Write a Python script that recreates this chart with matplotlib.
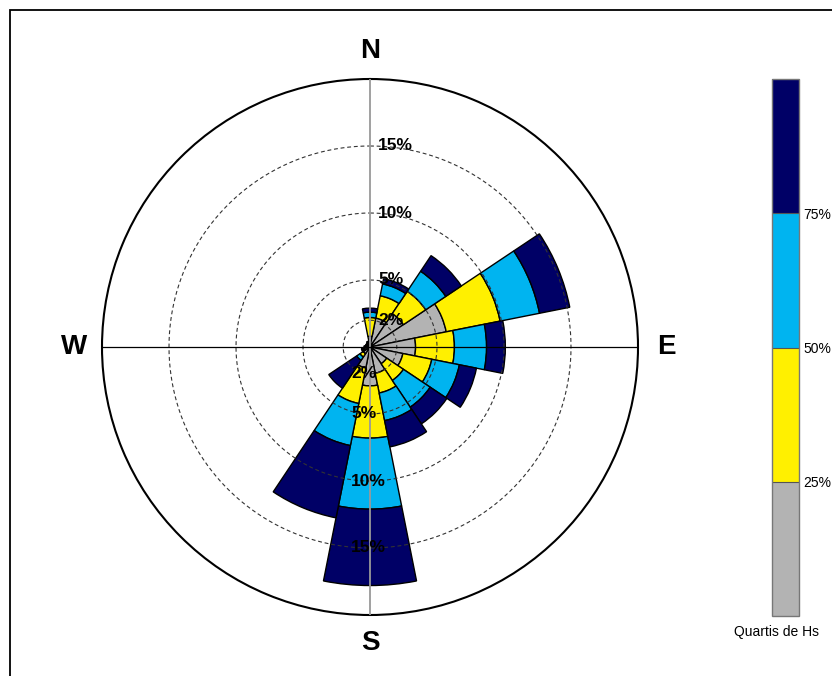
import numpy as np
import matplotlib
matplotlib.use("Agg")
import matplotlib.pyplot as plt
from matplotlib.colors import ListedColormap, BoundaryNorm
from matplotlib.patches import Rectangle
import matplotlib.colorbar as mcolorbar

plt.rcParams['font.family'] = ['Liberation Sans', 'DejaVu Sans']

# Directions (degrees from north, clockwise)
directions = [0, 22.5, 45, 67.5, 90, 112.5, 135, 157.5,
              180, 202.5, 225, 247.5, 270, 292.5, 315, 337.5]

# Cumulative frequency (%) reached by each Hs quartile class, per direction
q1_cum = [0.8, 2.2, 3.0, 5.8, 3.4, 2.5, 1.5, 2.0, 2.9, 1.6, 0.6, 0.45, 0.3, 0.2, 0.2, 0.3]
q2_cum = [2.2, 3.9, 5.0, 9.9, 6.3, 4.7, 3.0, 3.5, 6.8, 4.3, 0.9, 0.55, 0.35, 0.25, 0.25, 0.35]
q3_cum = [2.6, 4.8, 6.8, 12.9, 8.7, 6.8, 5.4, 5.6, 12.1, 7.5, 1.2, 0.6, 0.4, 0.3, 0.3, 0.4]
q4_cum = [2.9, 5.2, 8.2, 15.2, 10.1, 8.1, 6.9, 7.6, 17.8, 13.0, 3.7, 0.65, 0.45, 0.35, 0.35, 0.45]

ring_values = [2, 5, 10, 15]
ring_labels = ["2%", "5%", "10%", "15%"]
class_colors = ["#B3B3B3", "#FFF000", "#00B4F0", "#000066"]
cbar_bounds = [0, 25, 50, 75, 100]
cbar_ticks = [25, 50, 75]
cbar_ticklabels = ["25%", "50%", "75%"]
cardinals = [("N", 0), ("E", 90), ("S", 180), ("W", 270)]

W, H = 832, 676
fig = plt.figure(figsize=(W / 100, H / 100), dpi=100)

# Polar rose
ax = fig.add_axes([102 / W, 1 - 615 / H, 536 / W, 536 / H], projection="polar")
ax.set_theta_zero_location("N")
ax.set_theta_direction(-1)
ax.set_ylim(0, 20)
ax.grid(False)
ax.set_xticks([])
ax.set_yticks([])
ax.spines["polar"].set_linewidth(1.5)
ax.spines["polar"].set_color("black")

theta = np.deg2rad(directions)
width = 2 * np.pi / len(directions)
levels = [np.array(q1_cum), np.array(q2_cum), np.array(q3_cum), np.array(q4_cum)]
bottom = np.zeros(len(directions))
for lev, col in zip(levels, class_colors):
    ax.bar(theta, lev - bottom, width=width, bottom=bottom, color=col,
           edgecolor="black", linewidth=1.0, zorder=2)
    bottom = lev

# Dashed reference rings
tt = np.linspace(0, 2 * np.pi, 721)
for r in ring_values:
    ax.plot(tt, np.full_like(tt, r), ls=(0, (3.5, 2.5)), color="#333333",
            lw=0.8, zorder=3)

# Cross lines
ax.plot([0, 0], [0, 20], color="#999999", lw=1.3, zorder=4)
ax.plot([np.pi, np.pi], [0, 20], color="#999999", lw=1.3, zorder=4)
ax.plot([np.pi / 2, np.pi / 2], [0, 20], color="black", lw=0.9, zorder=4)
ax.plot([3 * np.pi / 2, 3 * np.pi / 2], [0, 20], color="black", lw=0.9, zorder=4)

# Ring labels, north and south sides
for r, lab in zip(ring_values, ring_labels):
    ax.annotate(lab, xy=(0, r), xytext=(5.8, 0), textcoords="offset points",
                ha="left", va="center", fontsize=12.5, fontweight="bold",
                zorder=5, annotation_clip=False)
    ax.annotate(lab, xy=(np.pi, r), xytext=(-13.7, 0), textcoords="offset points",
                ha="left", va="center", fontsize=12.5, fontweight="bold",
                zorder=5, annotation_clip=False)

# Cardinal letters
for lab, ang in cardinals:
    ax.text(np.deg2rad(ang), 22.1, lab, ha="center", va="center",
            fontsize=20, fontweight="bold", clip_on=False)

# Quartile colour bar
cax = fig.add_axes([772 / W, 1 - 616 / H, 27 / W, (616 - 79) / H])
cmap = ListedColormap(class_colors)
norm = BoundaryNorm(cbar_bounds, cmap.N)
cb = mcolorbar.ColorbarBase(cax, cmap=cmap, norm=norm, orientation="vertical",
                            ticks=cbar_ticks)
cb.set_ticklabels(cbar_ticklabels)
cb.ax.minorticks_off()
cb.ax.tick_params(which="both", length=0, pad=3, labelsize=10)
cb.outline.set_edgecolor("#777777")
cb.outline.set_linewidth(1.0)
for b in cbar_ticks:
    cax.axhline(b, color="#555555", lw=0.8)
fig.text(777 / W, 1 - 632 / H, "Quartis de Hs", ha="center", va="center",
         fontsize=10)

# Figure frame
fig.add_artist(Rectangle((10 / W, -0.1), 1.2, 1 - 10 / H + 0.1, fill=False,
                         transform=fig.transFigure, lw=1.3, edgecolor="black"))

fig.savefig("out.png", dpi=100)
